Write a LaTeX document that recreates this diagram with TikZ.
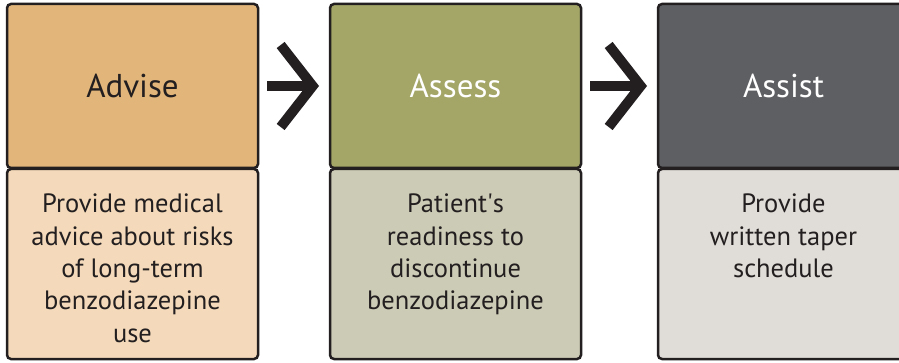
\documentclass[tikz,border=0pt]{standalone}
\usepackage{fontspec}
\setmainfont{PT Sans}
\usetikzlibrary{positioning}
\usetikzlibrary{arrows.meta}

\definecolor{ink}{RGB}{35,31,32}
\definecolor{advhead}{RGB}{226,182,122}
\definecolor{advbody}{RGB}{244,218,186}
\definecolor{asshead}{RGB}{164,166,103}
\definecolor{assbody}{RGB}{204,204,182}
\definecolor{asihead}{RGB}{93,95,98}
\definecolor{asibody}{RGB}{224,221,216}

\begin{document}
\begin{tikzpicture}[x=1pt, y=-1pt,
	head/.style={draw=ink, line width=2.5pt, rounded corners=4pt, outer sep=0pt, inner sep=0pt,
		minimum width=251pt, minimum height=164pt, font=\fontsize{33}{38}\selectfont},
	body/.style={draw=ink, line width=2.5pt, rounded corners=4pt, outer sep=0pt, inner sep=0pt,
		minimum width=251pt, minimum height=190pt},
	bodytext/.style={align=center, inner sep=0pt, text=ink, font=\fontsize{26.5}{32.3}\selectfont},
	chevron/.style={draw=ink, line width=10pt, shorten <=9pt, shorten >=11pt,
		-{Straight Barb[length=32pt, width=82pt]}}]
			\useasboundingbox (0, 0) rectangle (899, 363);
			\clip (0, 0) rectangle (899, 363);

			\node[head, fill=advhead, text=ink] (advise) at (132.5, 86) {Advise};
			\node[head, fill=asshead, text=white, right=72pt of advise] (assess) {Assess};
			\node[head, fill=asihead, text=white, right=77pt of assess] (assist) {Assist};

			\node[body, fill=advbody, below=1pt of advise] (advisebody) {};
			\node[body, fill=assbody, below=1pt of assess] (assessbody) {};
			\node[body, fill=asibody, below=1pt of assist] (assistbody) {};

			\node[bodytext, anchor=north, below=25pt of advisebody.north] (advisetext)
				{Provide medical\\advice about risks\\of long-term\\benzodiazepine\\use};
			\node[bodytext, anchor=north, below=25pt of assessbody.north] (assesstext)
				{Patient\textquotesingle s\\readiness to\\discontinue\\benzodiazepine};
			\node[bodytext, anchor=north, below=25pt of assistbody.north] (assisttext)
				{Provide\\written taper\\schedule};

			\draw[chevron] (advise) -- (assess);
			\draw[chevron] (assess) -- (assist);
\end{tikzpicture}
\end{document}
